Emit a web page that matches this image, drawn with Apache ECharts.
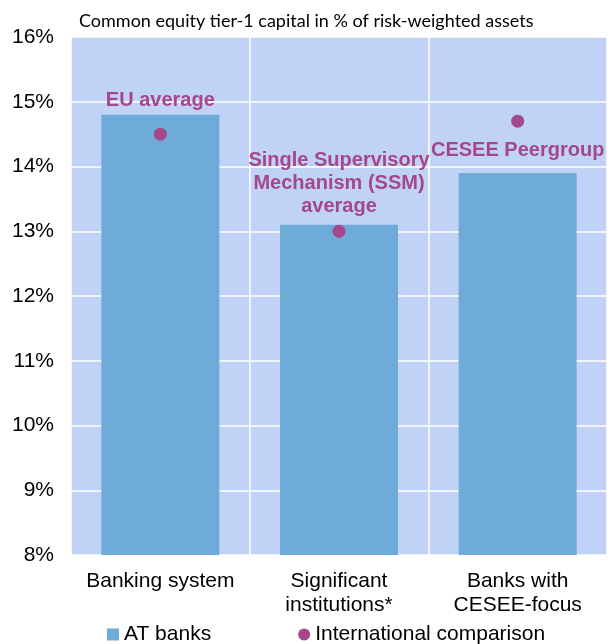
<!DOCTYPE html>
<html><head><meta charset="utf-8">
<script src="https://cdn.jsdelivr.net/npm/echarts@6/dist/echarts.min.js"></script>
<style>html,body{margin:0;padding:0;background:#fff}#c{width:611px;height:644px}</style>
</head><body><div id="c"></div>
<script>
const categories = ['Banking system', 'Significant\ninstitutions*', 'Banks with\nCESEE-focus'];
const atBanks = [14.8, 13.1, 13.9];
const intlComparison = [14.5, 13.0, 14.7];
const intlLabels = ['EU average', 'Single Supervisory\nMechanism (SSM)\naverage', 'CESEE Peergroup'];
const yTicks = [8, 9, 10, 11, 12, 13, 14, 15, 16];

const labelPos = ['top', 'top', 'bottom'];
const labelDist = [16, 7, 11];

const chart = echarts.init(document.getElementById('c'));
chart.setOption({
  animation: false,
  title: {
    text: 'Common equity tier-1 capital in % of risk-weighted assets',
    left: 74, top: 7,
    textStyle: { fontFamily: 'Lato', fontSize: 18, fontWeight: 'normal', color: '#000' }
  },
  grid: { left: 71, right: 4, top: 37, bottom: 89, show: true, backgroundColor: '#c0d3f7', borderWidth: 0 },
  legend: {
    top: 619, left: 102,
    itemGap: 87, itemWidth: 12, itemHeight: 12,
    textStyle: { fontFamily: 'Liberation Sans', fontSize: 21, color: '#000' },
    data: [
      { name: 'AT banks', icon: 'rect' },
      { name: 'International comparison', icon: 'circle' }
    ]
  },
  xAxis: {
    type: 'category', data: categories,
    axisLine: { show: false }, axisTick: { show: false },
    splitLine: { show: true, lineStyle: { color: '#ffffff', width: 1.5 } },
    axisLabel: { fontFamily: 'Liberation Sans', fontSize: 21, color: '#000', lineHeight: 24, margin: 14, interval: 0 }
  },
  yAxis: {
    type: 'value', min: yTicks[0], max: yTicks[yTicks.length - 1], interval: 1,
    axisLine: { show: false }, axisTick: { show: false },
    splitLine: { lineStyle: { color: '#ffffff', width: 1.5 } },
    axisLabel: { formatter: '{value}%', fontFamily: 'Liberation Sans', fontSize: 21, color: '#000', margin: 17 }
  },
  series: [
    {
      name: 'AT banks', type: 'bar', data: atBanks, barWidth: 118,
      itemStyle: { color: '#6fabd9' }
    },
    {
      name: 'International comparison', type: 'scatter', symbol: 'circle', symbolSize: 13,
      itemStyle: { color: '#a5478a', opacity: 1 },
      data: intlComparison.map((v, i) => ({
        value: v,
        label: {
          show: true, formatter: intlLabels[i], position: labelPos[i], distance: labelDist[i],
          fontFamily: 'Liberation Sans', fontSize: 20, fontWeight: 'bold', color: '#a5478a',
          lineHeight: 23, align: 'center'
        }
      }))
    }
  ]
});
</script></body></html>
